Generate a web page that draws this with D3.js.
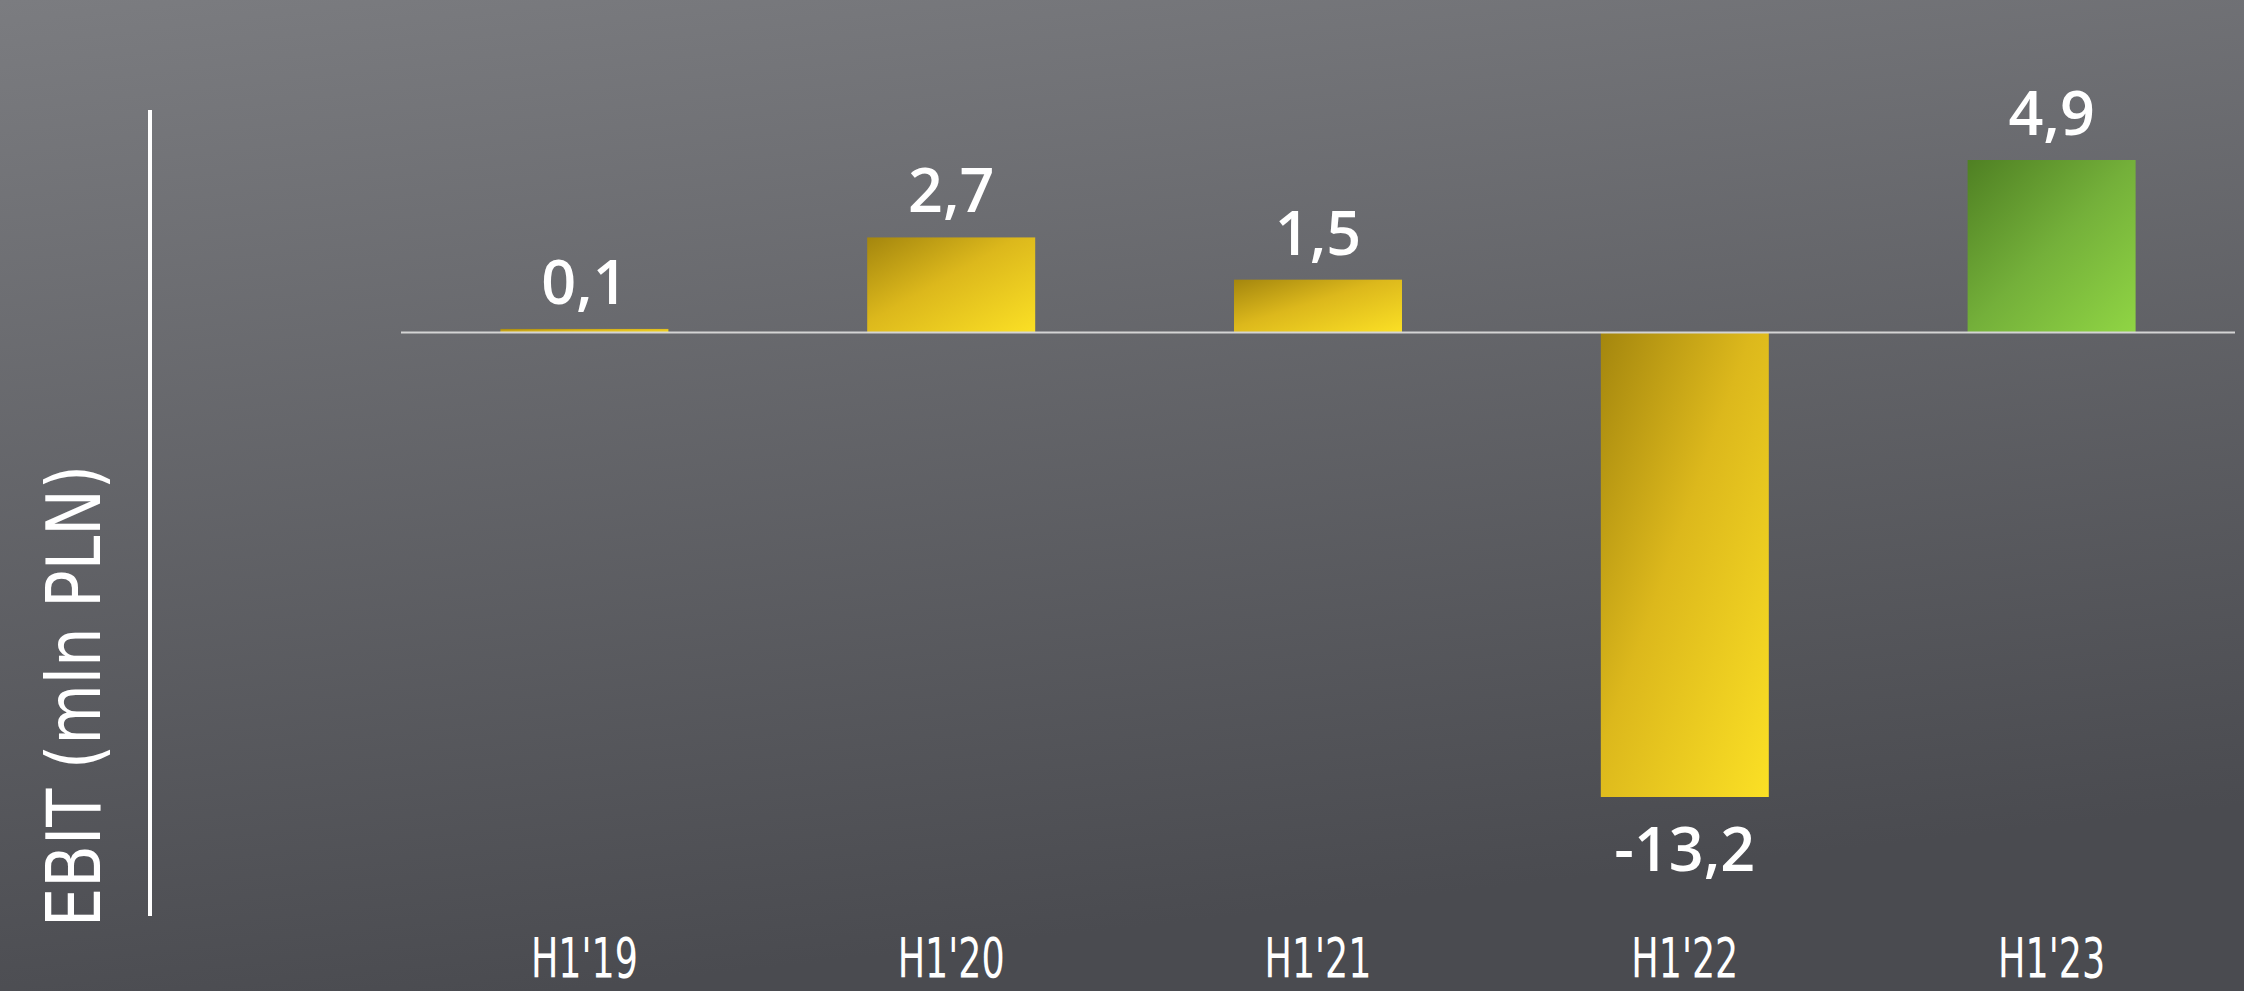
<!DOCTYPE html>
<html><head><meta charset="utf-8">
<script src="https://cdn.jsdelivr.net/npm/d3@7"></script>
<style>html,body{margin:0;padding:0;background:#636468;}svg{display:block;}</style>
</head><body>
<svg id="c" width="2244" height="991"></svg>
<script>
const categories = ["H1'19","H1'20","H1'21","H1'22","H1'23"];
const values = [0.1, 2.7, 1.5, -13.2, 4.9];
const valueLabels = ["0,1","2,7","1,5","-13,2","4,9"];
const barKinds = ["gold","gold","gold","gold","green"];
const yTitle = "EBIT (mln PLN)";

const W = 2244, H = 991;
const svg = d3.select("#c");
const defs = svg.append("defs");

const bg = defs.append("linearGradient").attr("id","bg").attr("x1","0").attr("y1","0").attr("x2","0.25").attr("y2","1");
bg.append("stop").attr("offset","0").attr("stop-color","#7b7c80");
bg.append("stop").attr("offset","1").attr("stop-color","#4a4b50");

const gGold = defs.append("linearGradient").attr("id","gold").attr("x1","0").attr("y1","0").attr("x2","1").attr("y2","1");
gGold.append("stop").attr("offset","0").attr("stop-color","#a4860e");
gGold.append("stop").attr("offset","0.45").attr("stop-color","#dcb81c");
gGold.append("stop").attr("offset","1").attr("stop-color","#fbe025");
const gGreen = defs.append("linearGradient").attr("id","green").attr("x1","0").attr("y1","0").attr("x2","1").attr("y2","1");
gGreen.append("stop").attr("offset","0").attr("stop-color","#4f8023");
gGreen.append("stop").attr("offset","0.5").attr("stop-color","#74b03a");
gGreen.append("stop").attr("offset","1").attr("stop-color","#90d544");

svg.append("rect").attr("width",W).attr("height",H).attr("fill","url(#bg)");

const x = d3.scaleBand().domain(categories).range([401, 2235]).paddingInner(0.542).paddingOuter(0.271);
const y = d3.scaleLinear().domain(d3.extent(values)).range([797, 160]);

// bars
svg.selectAll("rect.bar").data(values).join("rect").attr("class","bar")
  .attr("x",(d,i)=>x(categories[i]))
  .attr("width",x.bandwidth())
  .attr("y",d=>Math.min(y(d),y(0)))
  .attr("height",d=>Math.abs(y(d)-y(0)))
  .attr("fill",(d,i)=>`url(#${barKinds[i]})`);

// zero line
svg.append("line").attr("x1",401).attr("x2",2235).attr("y1",y(0)).attr("y2",y(0))
  .attr("stroke","#d4d4d4").attr("stroke-width",2);

// value labels
svg.selectAll("text.val").data(values).join("text").attr("class","val")
  .attr("x",(d,i)=>x(categories[i])+x.bandwidth()/2)
  .attr("y",d=>d>=0 ? y(d)-25 : y(d)+74)
  .attr("text-anchor","middle")
  .attr("font-family","'Open Sans', sans-serif").attr("font-weight",600)
  .attr("font-size",61).attr("fill","#ffffff")
  .text((d,i)=>valueLabels[i]);

// x axis labels
const xAxis = d3.axisBottom(x).tickSize(0).tickPadding(0);
const gx = svg.append("g").attr("transform","translate(0,977)").call(xAxis);
gx.select(".domain").remove();
gx.selectAll("text").attr("font-family","'DejaVu Sans Condensed','DejaVu Sans',sans-serif")
  .attr("font-weight",300).attr("font-size",56).attr("fill","#ffffff").attr("dy","0")
  .attr("textLength",107).attr("lengthAdjust","spacingAndGlyphs");

// y axis line
svg.append("line").attr("x1",150).attr("x2",150).attr("y1",110).attr("y2",916)
  .attr("stroke","#ffffff").attr("stroke-width",4);

// y title
svg.append("text").attr("transform","translate(100,927) rotate(-90)")
  .attr("font-family","'DejaVu Sans Condensed','DejaVu Sans',sans-serif")
  .attr("font-size",74).attr("fill","#ffffff")
  .attr("textLength",462).attr("lengthAdjust","spacingAndGlyphs")
  .text(yTitle);
</script>
</body></html>
